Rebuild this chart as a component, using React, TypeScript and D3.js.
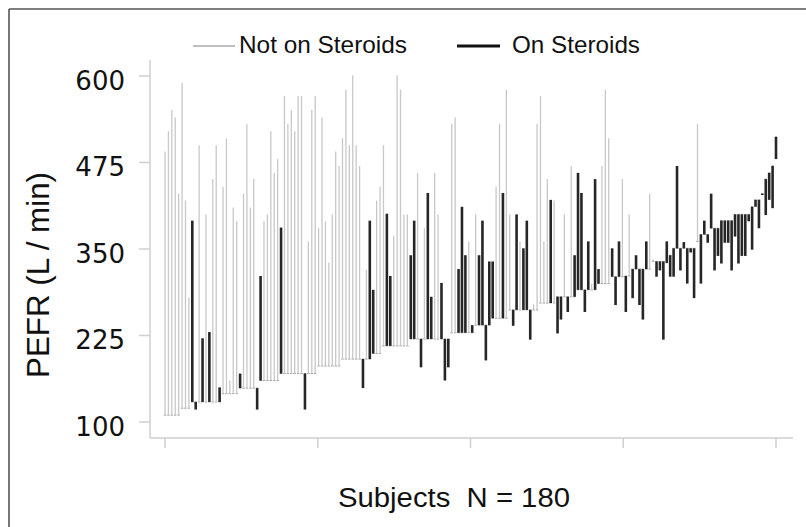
import React from "react";
import * as d3 from "d3";

// Per-subject data (sorted by baseline PEFR)
const baseline: number[] = [
  110,110,110,110,110,120,120,120,129,129,129,129,129,129,129,129,129,141,141,141,
  141,141,149,149,149,149,149,149,160,160,160,160,160,160,170,170,170,170,170,170,
  170,170,170,170,170,181,181,181,181,181,181,181,191,191,191,191,191,191,191,191,
  191,199,199,199,210,210,210,210,210,210,210,210,220,220,220,220,220,220,220,220,
  220,220,220,220,229,229,229,229,229,229,229,240,240,240,240,240,250,250,250,250,
  250,262,262,262,262,262,262,262,262,262,272,272,272,272,272,281,281,281,281,281,
  281,291,291,291,291,291,291,300,300,300,300,310,310,310,310,311,311,321,321,321,
  321,321,321,332,332,332,332,330,341,351,351,351,351,351,351,351,361,371,371,371,
  380,380,380,391,391,391,391,400,400,400,400,400,411,421,421,430,451,460,470,512,
];
const endValue: number[] = [
  491,520,551,540,430,590,420,280,391,118,500,221,400,230,451,500,150,440,510,160,
  410,390,170,430,531,410,451,118,311,390,400,520,460,480,381,571,531,551,520,571,
  571,118,361,551,571,380,540,390,330,400,491,470,510,580,500,601,500,470,149,320,
  391,291,420,440,500,401,311,369,601,580,400,400,341,391,460,179,380,431,281,460,
  400,301,160,179,531,540,321,411,341,361,240,400,341,391,189,332,332,440,531,431,
  580,400,239,400,361,351,391,219,270,531,571,361,451,421,420,228,248,400,259,470,
  341,460,431,259,361,300,451,321,470,580,510,351,269,361,451,259,400,279,341,269,
  248,361,430,335,310,319,219,361,310,310,470,319,360,300,345,279,531,300,391,359,
  430,319,340,329,359,359,319,368,329,340,340,390,349,411,380,428,399,421,409,480,
];
// 1 = on steroids, 0 = not on steroids
const onSteroids: number[] = [
  0,0,0,0,0,0,0,0,1,1,0,1,0,1,0,0,1,0,0,0,
  0,0,1,0,0,0,0,1,1,0,0,0,0,0,1,0,0,0,0,0,
  0,1,0,0,0,0,0,0,0,0,0,0,0,0,0,0,0,0,1,0,
  1,1,0,0,0,1,1,0,0,0,0,0,1,1,0,1,0,1,1,0,
  0,1,1,1,0,0,1,1,1,0,1,0,1,1,1,1,1,0,0,1,
  0,0,1,1,0,1,1,1,0,0,0,0,0,1,0,1,1,0,1,0,
  1,1,1,1,1,0,1,1,0,0,0,1,1,1,0,1,0,1,1,1,
  1,1,0,0,1,1,1,1,1,1,1,1,1,1,1,1,0,1,1,1,
  1,1,1,1,1,1,1,1,1,1,1,1,1,1,1,1,1,1,1,1,
];

const yTicks: number[] = [100, 225, 350, 475, 600];
const xTicks: number[] = [1, 45.75, 90.5, 135.25, 180];
const legendItems = ["Not on Steroids", "On Steroids"];

export default function App() {
  const W = 806;
  const H = 527;
  const n = baseline.length;
  const x = d3.scaleLinear().domain([1, n]).range([165, 776]);
  const y = d3.scaleLinear().domain([100, 600]).range([422, 76]);
  const idx = d3.range(n);
  const grayIdx = idx.filter((i) => !onSteroids[i]);
  const blackIdx = idx.filter((i) => onSteroids[i]);

  return (
    <svg
      width={W}
      height={H}
      style={{ position: "absolute", left: 0, top: 0, background: "#fff" }}
    >
      {/* outer frame */}
      <line x1={9} y1={9} x2={W + 5} y2={9} stroke="#555" strokeWidth={1.6} />
      <line x1={9} y1={9} x2={9} y2={H + 5} stroke="#555" strokeWidth={1.6} />

      {/* axes */}
      <line x1={150} y1={60} x2={150} y2={438} stroke="#cfcfcf" strokeWidth={1.5} />
      <line x1={150} y1={438} x2={793} y2={438} stroke="#cfcfcf" strokeWidth={1.5} />
      {xTicks.map((t, i) => (
        <line key={"xt" + i} x1={x(t)} x2={x(t)} y1={438} y2={448} stroke="#cfcfcf" strokeWidth={1.5} />
      ))}
      {yTicks.map((t) => (
        <g key={"yt" + t}>
          <line x1={139} x2={150} y1={y(t)} y2={y(t)} stroke="#cfcfcf" strokeWidth={1.5} />
          <text
            x={125}
            y={y(t) + 13.5}
            textAnchor="end"
            fontFamily="DejaVu Sans"
            fontSize={26}
            fill="#111"
          >
            {t}
          </text>
        </g>
      ))}

      {/* baseline dashes */}
      {idx.map((i) => (
        <line
          key={"b" + i}
          x1={x(i + 1) - 1.2}
          x2={x(i + 1) + 1.2}
          y1={y(baseline[i])}
          y2={y(baseline[i])}
          stroke="#9a9a9a"
          strokeWidth={1}
        />
      ))}

      {/* not on steroids */}
      {grayIdx.map((i) => (
        <line
          key={"g" + i}
          x1={x(i + 1)}
          x2={x(i + 1)}
          y1={y(baseline[i])}
          y2={y(endValue[i])}
          stroke="#c8c8c8"
          strokeWidth={1.3}
        />
      ))}
      {/* on steroids */}
      {blackIdx.map((i) => (
        <line
          key={"k" + i}
          x1={x(i + 1)}
          x2={x(i + 1)}
          y1={y(baseline[i])}
          y2={y(endValue[i])}
          stroke="#262626"
          strokeWidth={2.6}
        />
      ))}

      {/* legend */}
      <line x1={193} x2={235} y1={46} y2={46} stroke="#a8a8a8" strokeWidth={1.5} />
      <text x={239} y={53} fontFamily="Liberation Sans" fontSize={24} fill="#111" textLength={168} lengthAdjust="spacingAndGlyphs">
        {legendItems[0]}
      </text>
      <line x1={457} x2={500} y1={46} y2={46} stroke="#111" strokeWidth={3.2} />
      <text x={512} y={53} fontFamily="Liberation Sans" fontSize={24} fill="#111" textLength={128} lengthAdjust="spacingAndGlyphs">
        {legendItems[1]}
      </text>

      {/* axis titles */}
      <text
        transform={`translate(49,275) rotate(-90)`}
        textAnchor="middle"
        fontFamily="Liberation Sans"
        fontSize={31}
        fill="#111"
        textLength={206}
        lengthAdjust="spacingAndGlyphs"
      >
        PEFR (L / min)
      </text>
      <text
        x={454}
        y={507}
        textAnchor="middle"
        fontFamily="Liberation Sans"
        fontSize={27}
        fill="#111"
        textLength={232}
        lengthAdjust="spacingAndGlyphs"
        style={{ whiteSpace: "pre" }}
      >
        {"Subjects  N = 180"}
      </text>
    </svg>
  );
}
